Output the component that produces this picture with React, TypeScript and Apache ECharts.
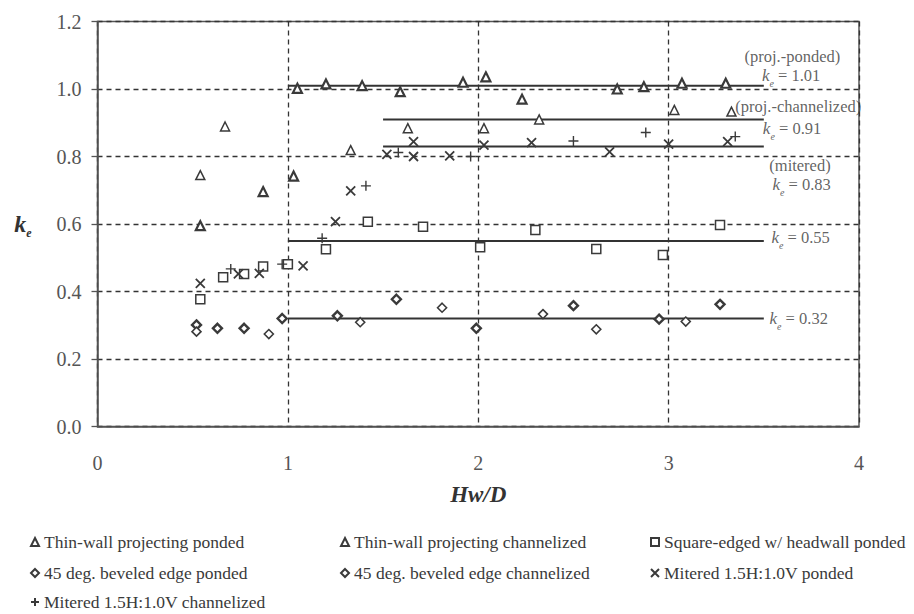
import React, { useEffect, useRef } from "react";
import * as echarts from "echarts";

const SERIF = "Times New Roman, Liberation Serif, serif";
const INK = "#3a3a3a";

// Hw/D, ke pairs for each inlet type
const thinWallPonded: number[][] = [
  [0.54, 0.595], [0.87, 0.696], [1.03, 0.742], [1.05, 1.002], [1.2, 1.015],
  [1.39, 1.01], [1.59, 0.992], [1.92, 1.02], [2.04, 1.036], [2.23, 0.97],
  [2.73, 1.0], [2.87, 1.007], [3.07, 1.017], [3.3, 1.017],
];
const thinWallChannelized: number[][] = [
  [0.54, 0.745], [0.67, 0.889], [1.33, 0.819], [1.63, 0.884], [2.03, 0.884],
  [2.32, 0.91], [3.03, 0.938], [3.33, 0.933],
];
const squareEdgedPonded: number[][] = [
  [0.54, 0.377], [0.66, 0.442], [0.77, 0.452], [0.87, 0.474], [1.0, 0.481],
  [1.2, 0.525], [1.42, 0.607], [1.71, 0.592], [2.01, 0.531], [2.3, 0.582],
  [2.62, 0.526], [2.97, 0.508], [3.27, 0.597],
];
const beveledPonded: number[][] = [
  [0.52, 0.301], [0.63, 0.291], [0.77, 0.291], [0.97, 0.32], [1.26, 0.328],
  [1.57, 0.377], [1.99, 0.291], [2.5, 0.358], [2.95, 0.318], [3.27, 0.362],
];
const beveledChannelized: number[][] = [
  [0.52, 0.281], [0.9, 0.274], [1.38, 0.309], [1.81, 0.352], [2.34, 0.333],
  [2.62, 0.288], [3.09, 0.311],
];
const miteredPonded: number[][] = [
  [0.54, 0.424], [0.74, 0.452], [0.85, 0.454], [1.08, 0.476], [1.25, 0.607],
  [1.33, 0.698], [1.52, 0.806], [1.66, 0.844], [1.66, 0.8], [1.85, 0.802],
  [2.03, 0.834], [2.28, 0.841], [2.69, 0.814], [3.0, 0.837], [3.31, 0.844],
];
const miteredChannelized: number[][] = [
  [0.7, 0.467], [0.97, 0.481], [1.18, 0.558], [1.41, 0.713], [1.58, 0.812],
  [1.96, 0.8], [2.5, 0.846], [2.88, 0.871], [3.35, 0.859],
];

// average ke levels and the Hw/D span each one is drawn over
const fitLevels = [1.01, 0.91, 0.83, 0.55, 0.32];
const fitStart = [1.0, 1.5, 1.5, 1.0, 1.0];
const fitEnd = [3.5, 3.5, 3.5, 3.5, 3.5];

// text notes beside the average lines
const noteTexts = [
  "{v|(proj.-ponded)}", "{k|k}{e|e}{v| = 1.01}",
  "{v|(proj.-channelized)}", "{k|k}{e|e}{v| = 0.91}",
  "{v|(mitered)}", "{k|k}{e|e}{v| = 0.83}",
  "{k|k}{e|e}{v| = 0.55}", "{k|k}{e|e}{v| = 0.32}",
];
const noteX = [3.65, 3.49, 3.35, 3.495, 3.69, 3.545, 3.54, 3.53];
const noteY = [1.095, 1.04, 0.947, 0.884, 0.772, 0.716, 0.559, 0.321];
const noteAlign = ["center", "left", "left", "left", "center", "left", "left", "left"];

const xTicks = [0, 1, 2, 3, 4];

const X_PATH = "path://M0,0L10,10M10,0L0,10";
const PLUS_PATH = "path://M5,0L5,10M0,5L10,5";

const seriesDefs = [
  { name: "Thin-wall projecting ponded", data: thinWallPonded, symbol: "triangle", size: 9, bw: 2.2 },
  { name: "Thin-wall projecting channelized", data: thinWallChannelized, symbol: "triangle", size: 9, bw: 1.5 },
  { name: "Square-edged w/ headwall ponded", data: squareEdgedPonded, symbol: "rect", size: 9, bw: 1.5 },
  { name: "45 deg. beveled edge ponded", data: beveledPonded, symbol: "diamond", size: 9, bw: 2.4 },
  { name: "45 deg. beveled edge channelized", data: beveledChannelized, symbol: "diamond", size: 9, bw: 1.6 },
  { name: "Mitered 1.5H:1.0V ponded", data: miteredPonded, symbol: X_PATH, size: 9, bw: 1.8 },
  { name: "Mitered 1.5H:1.0V channelized", data: miteredChannelized, symbol: PLUS_PATH, size: 10, bw: 1.4 },
];

// legend grid: column x and row y for each entry
const legendLeft = [30, 340, 650, 30, 340, 650, 30];
const legendTop = [533, 533, 533, 564, 564, 564, 593];

const noteRich = {
  k: { fontFamily: SERIF, fontStyle: "italic", fontSize: 17, color: INK, lineHeight: 26, verticalAlign: "middle" },
  e: { fontFamily: SERIF, fontStyle: "italic", fontSize: 10, color: INK, lineHeight: 10, verticalAlign: "bottom" },
  v: { fontFamily: SERIF, fontSize: 16.5, color: INK, lineHeight: 26, verticalAlign: "middle" },
};

export default function App() {
  const ref = useRef<HTMLDivElement>(null);

  useEffect(() => {
    if (!ref.current) return;
    const chart = echarts.init(ref.current, null, { renderer: "svg" });

    const scatterSeries = seriesDefs.map((d) => ({
      name: d.name,
      type: "scatter",
      data: d.data,
      symbol: d.symbol,
      symbolSize: d.size,
      itemStyle: {
        color: d.symbol.startsWith("path://") ? "rgba(0,0,0,0)" : "#ffffff",
        borderColor: INK,
        borderWidth: d.bw,
        opacity: 1,
      },
      z: 5,
    }));

    const fitSeries = fitLevels.map((lv, i) => ({
      name: "fit" + i,
      type: "line",
      data: [[fitStart[i], lv], [fitEnd[i], lv]],
      symbol: "none",
      lineStyle: { color: "#333", width: 2 },
      z: 3,
      silent: true,
    }));

    const noteSeries = {
      name: "notes",
      type: "scatter",
      symbolSize: 0,
      silent: true,
      z: 6,
      data: noteTexts.map((t, i) => ({
        value: [noteX[i], noteY[i]],
        label: {
          show: true,
          position: "inside",
          align: noteAlign[i],
          verticalAlign: "middle",
          formatter: t,
          fontFamily: SERIF,
          fontSize: 16.5,
          color: INK,
          rich: noteRich,
        },
      })),
    };

    const legends = seriesDefs.map((d, i) => ({
      data: [d.name],
      left: legendLeft[i],
      top: legendTop[i],
      padding: 0,
      itemWidth: 8,
      itemHeight: 8,
      itemGap: 6,
      textStyle: { fontFamily: SERIF, fontSize: 17.5, color: INK },
      selectedMode: false,
    }));

    chart.setOption({
      animation: false,
      backgroundColor: "#ffffff",
      textStyle: { fontFamily: SERIF },
      grid: {
        left: 97.5,
        right: 55,
        top: 21.5,
        bottom: 187.5,
        show: true,
        borderColor: "#555",
        borderWidth: 1.5,
        backgroundColor: "transparent",
      },
      legend: legends,
      xAxis: {
        type: "value",
        min: 0,
        max: 4,
        interval: 1,
        name: "Hw/D",
        nameLocation: "middle",
        nameGap: 56,
        nameTextStyle: { fontFamily: SERIF, fontSize: 23, fontWeight: "bold", fontStyle: "italic", color: "#333" },
        axisLine: { lineStyle: { color: "#555", width: 1.5 } },
        axisTick: { show: false },
        axisLabel: {
          margin: 26,
          fontFamily: SERIF,
          fontSize: 20,
          color: "#555",
          formatter: (v: number) => (xTicks.includes(v) ? String(v) : ""),
        },
        splitLine: { show: true, lineStyle: { color: "#333", type: [5, 4], width: 1.3 } },
      },
      yAxis: {
        type: "value",
        min: 0,
        max: 1.2,
        interval: 0.2,
        name: "{k|k}{e|e}",
        nameLocation: "middle",
        nameRotate: 0,
        nameGap: 66,
        nameTextStyle: {
          rich: {
            k: { fontFamily: SERIF, fontSize: 24, fontWeight: "bold", fontStyle: "italic", color: "#333", lineHeight: 30, verticalAlign: "middle" },
            e: { fontFamily: SERIF, fontSize: 12, fontWeight: "bold", fontStyle: "italic", color: "#333", lineHeight: 12, verticalAlign: "bottom" },
          },
        },
        axisLine: { show: true, lineStyle: { color: "#555", width: 1.5 } },
        axisTick: { show: true, length: 6, lineStyle: { color: "#555", width: 1.3 } },
        axisLabel: {
          margin: 16,
          fontFamily: SERIF,
          fontSize: 20,
          color: "#555",
          formatter: (v: number) => v.toFixed(1),
        },
        splitLine: { show: true, lineStyle: { color: "#333", type: [5, 4], width: 1.3 } },
      },
      series: [...fitSeries, ...scatterSeries, noteSeries],
    });

    return () => chart.dispose();
  }, []);

  return (
    <div
      ref={ref}
      style={{ position: "fixed", left: 0, top: 0, width: 914, height: 614, background: "#fff" }}
    />
  );
}
